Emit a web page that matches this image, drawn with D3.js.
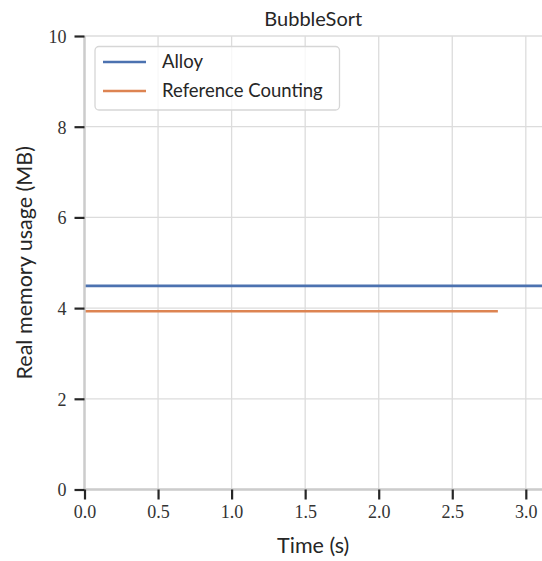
<!DOCTYPE html>
<html><head><meta charset="utf-8">
<script src="https://cdn.jsdelivr.net/npm/d3@7"></script>
<style>body{margin:0;background:#fff}svg{display:block}</style>
</head><body>
<script>
const title = "BubbleSort";
const xLabel = "Time (s)";
const yLabel = "Real memory usage (MB)";
const seriesNames = ["Alloy", "Reference Counting"];
const seriesColors = ["#4c72b0", "#dd8452"];
const alloyT = [0, 3.12];
const alloyMB = [4.49, 4.49];
const rcT = [0, 2.81];
const rcMB = [3.93, 3.93];
const xTicks = [0, 0.5, 1.0, 1.5, 2.0, 2.5, 3.0];
const yTicks = [0, 2, 4, 6, 8, 10];

const W = 542, H = 561;
const m = {left: 84.5, right: 0, top: 36, bottom: 71.5};
const svg = d3.select("body").append("svg").attr("width", W).attr("height", H);
const x = d3.scaleLinear().domain([0, 3.11]).range([m.left, W - m.right]);
const y = d3.scaleLinear().domain([0, 10]).range([H - m.bottom, m.top]);
const sans = "Lato, 'Open Sans', sans-serif";
const serif = "'Liberation Serif', serif";

// grid
svg.append("g").selectAll("line").data(xTicks).join("line")
  .attr("x1", d => x(d)).attr("x2", d => x(d)).attr("y1", y(0)).attr("y2", y(10))
  .attr("stroke", "#dcdcdc").attr("stroke-width", 1.3);
svg.append("g").selectAll("line").data(yTicks).join("line")
  .attr("x1", x(0)).attr("x2", W).attr("y1", d => y(d)).attr("y2", d => y(d))
  .attr("stroke", "#dcdcdc").attr("stroke-width", 1.3);

// data lines
const line = d3.line().x(d => x(d[0])).y(d => y(d[1]));
svg.append("clipPath").attr("id", "c").append("rect")
  .attr("x", x(0)).attr("y", y(10)).attr("width", W - x(0)).attr("height", y(0) - y(10));
const series = [d3.zip(alloyT, alloyMB), d3.zip(rcT, rcMB)];
svg.append("g").attr("clip-path", "url(#c)").selectAll("path").data(series).join("path")
  .attr("d", line).attr("fill", "none")
  .attr("stroke", (d, i) => seriesColors[i]).attr("stroke-width", 2.6);

// spines
svg.append("line").attr("x1", x(0)).attr("x2", x(0)).attr("y1", y(0)).attr("y2", y(10))
  .attr("stroke", "#cccccc").attr("stroke-width", 2.5);
svg.append("line").attr("x1", x(0)).attr("x2", W).attr("y1", y(0)).attr("y2", y(0))
  .attr("stroke", "#cccccc").attr("stroke-width", 2.5);

// axes
const xAxis = d3.axisBottom(x).tickValues(xTicks).tickFormat(d3.format(".1f")).tickSize(10).tickPadding(6);
const gx = svg.append("g").attr("transform", `translate(0,${y(0)})`).call(xAxis);
const yAxis = d3.axisLeft(y).tickValues(yTicks).tickFormat(d3.format("d")).tickSize(10).tickPadding(8);
const gy = svg.append("g").attr("transform", `translate(${x(0)},0)`).call(yAxis);
[gx, gy].forEach(g => {
  g.select(".domain").remove();
  g.selectAll(".tick line").attr("stroke", "#262626").attr("stroke-width", 2.2);
  g.selectAll(".tick text").attr("fill", "#333").attr("font-family", serif).attr("font-size", 18);
});
gy.selectAll(".tick text").attr("dy", "0.35em");

// labels
svg.append("text").attr("x", (x(0) + W) / 2).attr("y", 26).attr("text-anchor", "middle")
  .attr("font-family", sans).attr("font-size", 20).attr("fill", "#262626").text(title);
svg.append("text").attr("x", (x(0) + W) / 2).attr("y", 553).attr("text-anchor", "middle")
  .attr("font-family", sans).attr("font-size", 21.5).attr("fill", "#262626").text(xLabel);
svg.append("text").attr("transform", `translate(32,${(y(0) + y(10)) / 2}) rotate(-90)`)
  .attr("text-anchor", "middle")
  .attr("font-family", sans).attr("font-size", 21.5).attr("fill", "#262626").text(yLabel);

// legend
const lg = svg.append("g");
lg.append("rect").attr("x", 95).attr("y", 46.5).attr("width", 244.5).attr("height", 63.5)
  .attr("rx", 4).attr("fill", "#fff").attr("fill-opacity", 0.8)
  .attr("stroke", "#d6d6d6").attr("stroke-width", 1.3);
seriesNames.forEach((n, i) => {
  const yy = 62 + i * 29;
  lg.append("line").attr("x1", 103).attr("x2", 146).attr("y1", yy).attr("y2", yy)
    .attr("stroke", seriesColors[i]).attr("stroke-width", 2.6);
  lg.append("text").attr("x", 162).attr("y", yy).attr("dy", "0.35em")
    .attr("font-family", sans).attr("font-size", 18.5).attr("fill", "#262626").text(n);
});
</script>
</body></html>
